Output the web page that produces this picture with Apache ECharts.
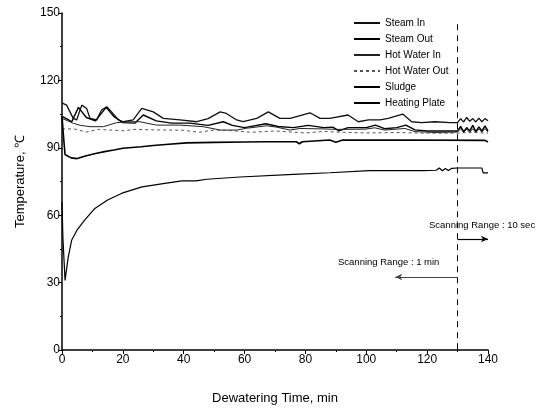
<!DOCTYPE html>
<html>
<head>
<meta charset="utf-8">
<script src="https://cdn.jsdelivr.net/npm/echarts@6/dist/echarts.min.js"></script>
<style>
  html, body { margin: 0; padding: 0; background: #fff; }
  #main { width: 551px; height: 411px; }
</style>
</head>
<body>
<div id="main"></div>
<script>
// time (min) / temperature (C) pairs
const steamInT = [0, 0.4, 1.5, 3.7, 4.8, 6.5, 8.1, 9.2, 11.4, 13, 14.7, 16.3, 18.5, 20.1, 23.4, 26.2, 30, 33.3, 38.8, 44.3, 48, 52, 54, 57.4, 59.5, 64, 67.8, 71.6, 75, 81.5, 84.8, 88, 94, 97.4, 100.7, 104.5, 107.2, 112, 114.9, 118.2, 122.6, 127.5, 130, 131, 132, 133, 134, 135, 136, 137, 138, 139, 140];
const steamInV = [110, 110.5, 109, 103.1, 102.4, 109, 107.5, 103.1, 102.4, 106.8, 108.3, 106, 102.4, 101.6, 102.4, 107.5, 106, 103.1, 102.4, 101.6, 103, 106, 105.3, 102.4, 101.6, 103.1, 106, 103.1, 103.1, 105.6, 103.1, 103.1, 104.6, 101.6, 102.4, 102.4, 103.1, 105, 101.6, 101.2, 101.6, 101.2, 101.2, 103, 101.5, 103.5, 101.8, 103, 101.5, 103.2, 101.6, 103, 102];

const steamOutT = [0, 0.4, 2, 3.2, 5.4, 8, 11, 14.5, 17, 20, 24, 26.7, 31, 36, 42, 48, 53, 56, 60, 67, 71, 76, 81, 86, 89, 91, 94, 100, 103, 106, 110, 113, 116, 120, 125, 130, 131, 132, 133, 134, 135, 136, 137, 138, 139, 140];
const steamOutV = [104, 104.6, 102.5, 101.6, 108, 103.5, 102, 108, 104, 101.2, 101, 104.6, 102, 101, 101, 100, 101.6, 100, 99, 100.7, 99.5, 99, 100, 99, 99.2, 97.5, 99, 99, 100.1, 98.5, 99, 100.1, 98, 97.5, 97.5, 97.5, 99.5, 97.2, 99, 97.5, 100, 97.2, 99.3, 97.5, 99.8, 97.5];

const hotWaterInT = [0, 1, 3.7, 6, 9.2, 13.6, 18, 22, 25.6, 31, 38.8, 46.4, 52, 57.4, 60.7, 67.3, 70.5, 75, 78.2, 85.9, 90, 99.6, 102.8, 106, 112.7, 116, 122.6, 130, 131, 132, 133, 134, 135, 136, 137, 138, 139, 140];
const hotWaterInV = [103, 102.5, 100.9, 100, 99.4, 99.4, 101.2, 101.6, 101.6, 100.1, 100.1, 99.4, 97.9, 97.9, 98.7, 99.8, 99.2, 97.9, 98.6, 98.4, 98.2, 98.3, 98.9, 97.9, 98.6, 97.2, 96.8, 97, 98.6, 96.8, 98.3, 96.9, 98.5, 96.8, 98.4, 97, 98.6, 97];

const hotWaterOutT = [0, 4, 8, 12, 20, 24, 30, 40, 45, 50, 56, 62, 70, 80, 86, 90, 100, 110, 120, 130, 135, 140];
const hotWaterOutV = [98.4, 98.4, 97, 98.2, 97.6, 98.2, 98, 97.8, 96.9, 97.9, 97.6, 96.9, 97.5, 96.6, 97.3, 97, 96.6, 96.8, 96.5, 96.5, 96.9, 96.5];

const sludgeT = [0, 0.3, 1, 2, 3.2, 5, 7.5, 10.8, 15, 19.7, 26.3, 33.8, 39.4, 44, 47.6, 58.5, 76, 88, 101, 118.6, 123, 124, 125, 126, 127, 128, 130, 138, 138.4, 140];
const sludgeV = [66, 50, 31, 41, 49, 53.5, 57.9, 63, 66.8, 69.8, 72.6, 74.2, 75.3, 75.3, 76, 77, 78.2, 78.9, 79.8, 79.8, 80, 81, 79.8, 80.8, 79.9, 80.8, 81, 81, 78.8, 78.8];

const plateT = [0, 0.5, 1, 3, 5, 8, 11, 14, 17, 20, 26, 30, 34, 41, 50, 60, 67, 77, 78, 79, 88, 90, 92, 110, 139, 140];
const plateV = [104, 95, 87, 85.5, 85.2, 86.5, 87.5, 88.3, 89, 89.8, 90.5, 91, 91.5, 92.2, 92.4, 92.6, 92.7, 92.7, 91.8, 92.7, 93.5, 92.5, 93.4, 93.5, 93.3, 92.6];

const names = ['Steam In', 'Steam Out', 'Hot Water In', 'Hot Water Out', 'Sludge', 'Heating Plate'];
const splitT = 130;

function pairs(t, v) {
  return t.map((x, i) => [x, v[i]]);
}

const chart = echarts.init(document.getElementById('main'));
const font = 'Liberation Sans, Arial, sans-serif';

function line(name, t, v, width, type, color) {
  return {
    name: name,
    type: 'line',
    data: pairs(t, v),
    symbol: 'none',
    smooth: false,
    lineStyle: { color: color || '#000', width: width, type: type || 'solid' },
    itemStyle: { color: color || '#000' }
  };
}

const series = [
  line(names[0], steamInT, steamInV, 1.3, 'solid', '#111'),
  line(names[1], steamOutT, steamOutV, 1.4, 'solid', '#000'),
  line(names[2], hotWaterInT, hotWaterInV, 1, 'solid', '#222'),
  line(names[3], hotWaterOutT, hotWaterOutV, 1, [3, 3], '#555'),
  line(names[4], sludgeT, sludgeV, 1.2, 'solid', '#000'),
  line(names[5], plateT, plateV, 1.6, 'solid', '#000')
];

// dashed split line and scanning range arrows
series[4].clip = false;
series[4].markLine = {
  silent: true,
  animation: false,
  label: { show: false },
  data: [
    [{ coord: [splitT, 145], symbol: 'none', lineStyle: { type: [6, 5], width: 1, color: '#000' } },
     { coord: [splitT, 0], symbol: 'none' }],
    [{ coord: [splitT, 49.4], symbol: 'none', lineStyle: { type: 'solid', width: 1.2, color: '#000' } },
     { coord: [140, 49.4], symbol: 'arrow', symbolSize: [5, 7] }],
    [{ coord: [splitT, 32.5], symbol: 'none', lineStyle: { type: 'solid', width: 1, color: '#444' } },
     { coord: [109.5, 32.5], symbol: 'arrow', symbolSize: [5, 7] }]
  ]
};

chart.setOption({
  animation: false,
  backgroundColor: '#fff',
  textStyle: { fontFamily: font },
  grid: { left: 62, right: 63, top: 13, bottom: 61 },
  legend: {
    data: names,
    orient: 'vertical',
    left: 348,
    top: 13,
    itemWidth: 26,
    itemHeight: 11,
    itemGap: 6,
    itemStyle: { opacity: 0 },
    textStyle: { fontSize: 10, color: '#000', fontFamily: font }
  },
  xAxis: {
    type: 'value',
    min: 0,
    max: 140,
    interval: 20,
    name: 'Dewatering Time, min',
    nameLocation: 'middle',
    nameGap: 42,
    nameTextStyle: { fontSize: 13, color: '#000' },
    axisLine: { show: true, onZero: false, lineStyle: { color: '#000', width: 1.5 } },
    axisTick: { show: true, inside: false, length: 4, lineStyle: { color: '#000' } },
    minorTick: { show: true, splitNumber: 2, length: 2, lineStyle: { color: '#000' } },
    axisLabel: { fontSize: 12, color: '#000', margin: 4 },
    splitLine: { show: false }
  },
  yAxis: {
    type: 'value',
    min: 0,
    max: 150,
    interval: 30,
    name: 'Temperature, \u2103',
    nameLocation: 'middle',
    nameGap: 35,
    nameRotate: 90,
    nameTextStyle: { fontSize: 13, color: '#000' },
    axisLine: { show: true, onZero: false, lineStyle: { color: '#000', width: 1.5 } },
    axisTick: { show: true, inside: false, length: 4, lineStyle: { color: '#000' } },
    minorTick: { show: true, splitNumber: 2, length: 2, lineStyle: { color: '#000' } },
    axisLabel: { fontSize: 12, color: '#000', margin: 2 },
    splitLine: { show: false }
  },
  graphic: [
    { type: 'text', left: 429, top: 220, style: { text: 'Scanning Range : 10 sec', fontSize: 9.5, fontFamily: font, fill: '#000' } },
    { type: 'text', left: 338, top: 257, style: { text: 'Scanning Range : 1 min', fontSize: 9.5, fontFamily: font, fill: '#000' } }
  ],
  series: series
});
</script>
</body>
</html>
